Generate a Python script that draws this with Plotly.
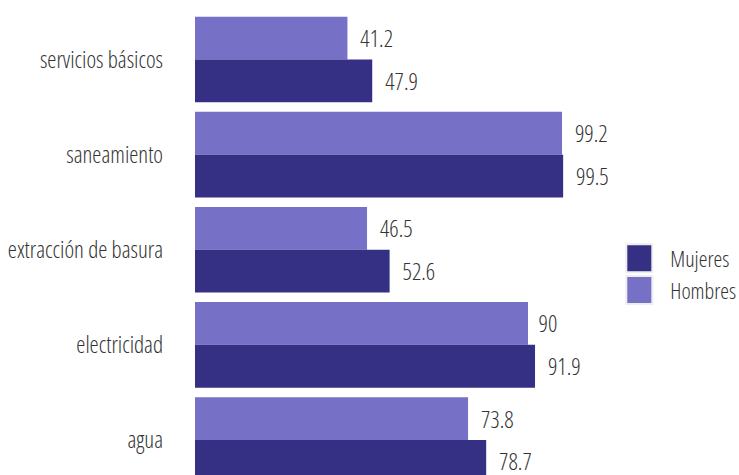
import plotly.graph_objects as go

categories = ["servicios básicos", "saneamiento", "extracción de basura", "electricidad", "agua"]
hombres = [41.2, 99.2, 46.5, 90, 73.8]
mujeres = [47.9, 99.5, 52.6, 91.9, 78.7]

FONT = "Open Sans"
c_h = "#7670C6"
c_m = "#353083"

fig = go.Figure()
for name, vals, col in [("Hombres", hombres, c_h), ("Mujeres", mujeres, c_m)]:
    fig.add_trace(go.Bar(y=categories, x=vals, orientation="h", name=name,
                         marker=dict(color=col, line=dict(width=0)),
                         text=vals, texttemplate="\u2009%{x}", textposition="outside",
                         textfont=dict(size=23, color="#333333", family=FONT, weight=300),
                         cliponaxis=False))

plot_top = 12.5
plot_bottom = 475
band = 95
bottom_val = -0.5 + (plot_bottom - plot_top) / band

fig.update_layout(
    width=739, height=475,
    margin=dict(l=195, r=137, t=12, b=0, autoexpand=False),
    barmode="group", bargap=0.1, bargroupgap=0,
    plot_bgcolor="white", paper_bgcolor="white",
    font=dict(family=FONT, size=23, color="#333333", weight=300),
    xaxis=dict(range=[0, 110], visible=False, showgrid=False, zeroline=False),
    yaxis=dict(range=[bottom_val, -0.5], showgrid=False, zeroline=False, showline=False,
               automargin=False, ticks="", ticklabelstandoff=31,
               tickfont=dict(size=23, color="#333333", family=FONT, weight=300)),
    legend=dict(x=1.045, xanchor="left", y=0.433, yanchor="middle", traceorder="reversed",
                font=dict(size=22, color="#333333", family=FONT, weight=300),
                bgcolor="rgba(0,0,0,0)", itemwidth=40),
    showlegend=True,
)
post = """
document.body.style.margin='0';
document.querySelectorAll('svg text').forEach(function(t){t.style.fontStretch='75%';});
document.querySelectorAll('.legend .legendpoints path').forEach(function(p){
  p.setAttribute('d','M7,14H-19V-14H7Z');
  p.style.stroke='#eeeeee'; p.style.strokeWidth='2px';
});
"""
fig.write_html("out.html", post_script=post, config={"displayModeBar": False})
